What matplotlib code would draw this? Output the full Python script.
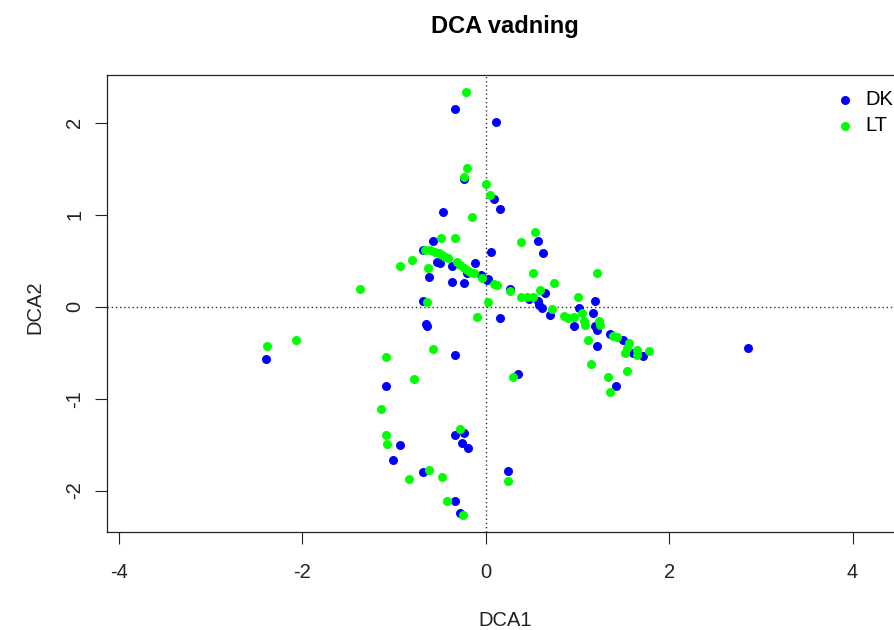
import matplotlib.pyplot as plt

# DCA site scores
dk_x = [-0.33, 0.11, -0.24, 0.085, 0.16, -0.47,
        0.565, 0.63, -0.57, 0.06, -0.68, -0.53, -0.50, -0.37, -0.115, -0.205,
        -0.62, -0.37, -0.24, -0.05, 0.01, 0.03,
        0.27, 0.47, 0.65, 0.565, 0.58, 0.61, 0.70,
        -0.68, 0.16, -0.65, -0.64,
        0.965, 1.02, 1.19, 1.165, 1.19, 1.21, 1.21,
        1.36, 1.50, 1.61, 1.72, 1.42,
        2.86, -2.40,
        -0.33, -1.09, 0.35, -0.94, -1.01, -0.33, -0.235, -0.26, -0.19,
        -0.685, 0.24, -0.335, -0.285]
dk_y = [2.15, 2.01, 1.39, 1.17, 1.06, 1.03,
        0.71, 0.58, 0.72, 0.59, 0.62, 0.49, 0.475, 0.44, 0.48, 0.37,
        0.32, 0.27, 0.26, 0.34, 0.29, 0.30,
        0.19, 0.08, 0.15, 0.06, 0.02, -0.01, -0.09,
        0.06, -0.12, -0.19, -0.21,
        -0.21, -0.01, 0.06, -0.07, -0.21, -0.25, -0.43,
        -0.30, -0.36, -0.50, -0.54, -0.86,
        -0.45, -0.57,
        -0.53, -0.86, -0.73, -1.50, -1.67, -1.40, -1.37, -1.48, -1.54,
        -1.80, -1.79, -2.11, -2.24]

lt_x = [-0.21, -0.20, -0.24, 0.0, 0.05, -0.155,
        0.54, 0.38, -0.485, -0.33, -0.80, -0.93, -0.63,
        -0.66, -0.61, -0.55, -0.51, -0.48, -0.44, -0.41,
        -0.31, -0.28, -0.24, -0.205, -0.17, -0.13,
        -0.04, 0.085, 0.12,
        0.52, 0.74, 0.27, 0.38, 0.45, 0.52, 0.59,
        0.72, -0.64, 0.03, -0.10,
        0.85, 0.90, 0.96,
        1.01, 1.21, 1.05, 1.07, 1.085, 1.23, 1.25, 1.12,
        1.39, 1.43, 1.56, 1.54, 1.52, 1.65, 1.65, 1.78,
        1.15, 1.54, 1.33, 1.35,
        -2.39, -2.07, -1.37,
        -0.58, -1.09, -0.78, 0.30, -1.14, -1.09, -1.08, -0.285,
        -0.62, -0.84, -0.48, 0.245, -0.42, -0.25]
lt_y = [2.33, 1.51, 1.41, 1.33, 1.21, 0.98,
        0.81, 0.70, 0.75, 0.75, 0.51, 0.44, 0.42,
        0.62, 0.62, 0.60, 0.58, 0.56, 0.54, 0.53,
        0.49, 0.45, 0.42, 0.40, 0.38, 0.37,
        0.31, 0.25, 0.24,
        0.37, 0.26, 0.17, 0.11, 0.105, 0.11, 0.185,
        -0.03, 0.05, 0.05, -0.11,
        -0.105, -0.12, -0.11,
        0.11, 0.37, -0.07, -0.16, -0.20, -0.16, -0.20, -0.36,
        -0.32, -0.33, -0.39, -0.45, -0.50, -0.47, -0.52, -0.48,
        -0.62, -0.70, -0.76, -0.93,
        -0.43, -0.36, 0.19,
        -0.46, -0.55, -0.79, -0.76, -1.11, -1.40, -1.49, -1.33,
        -1.78, -1.87, -1.85, -1.90, -2.11, -2.26]

x_ticks = [-4, -2, 0, 2, 4]
y_ticks = [-2, -1, 0, 1, 2]

plt.rcParams['font.family'] = ['Liberation Sans', 'DejaVu Sans']

W, H = 894, 630
fig = plt.figure(figsize=(W / 100, H / 100), dpi=100)

# plot box: left edge at 107 px, runs past the right edge of the image
xlim = (-4.13, 4.6)
ylim = (-2.45, 2.52)
px_per_unit = 91.7
left, top, bottom = 107, 75, 532
ax = fig.add_axes([left / W, (H - bottom) / H,
                   (xlim[1] - xlim[0]) * px_per_unit / W, (bottom - top) / H])

ax.scatter(dk_x, dk_y, s=42, color='#0000FF', linewidths=0, label='DK', zorder=3)
ax.scatter(lt_x, lt_y, s=42, color='#00FF00', linewidths=0, label='LT', zorder=3)

ax.axhline(0, color='#333333', linestyle=(0, (1, 2)), linewidth=1, zorder=1)
ax.axvline(0, color='#333333', linestyle=(0, (1, 2)), linewidth=1, zorder=1)

ax.set_xlim(xlim)
ax.set_ylim(ylim)
ax.set_xticks(x_ticks)
ax.set_yticks(y_ticks)
ax.set_xticklabels([str(t) for t in x_ticks])
ax.set_yticklabels([str(t) for t in y_ticks], rotation=90, va='center')
ax.tick_params(direction='out', length=8.5, width=0.8, labelsize=14.5, pad=8,
               colors='#222222')
ax.tick_params(axis='x', pad=14)
for s in ax.spines.values():
    s.set_linewidth(0.9)
    s.set_color('#222222')

fig.text(505 / W, 1 - 27 / H, 'DCA vadning', ha='center', va='center',
         fontsize=17, fontweight='bold')
fig.text(505 / W, 1 - 620 / H, 'DCA1', ha='center', va='center',
         fontsize=14.5, color='#222222')
fig.text(35 / W, 1 - 307 / H, 'DCA2', ha='center', va='center',
         fontsize=14.5, rotation=90, color='#222222')

fig.legend(loc='upper left', bbox_to_anchor=(835 / W, 1 - 90 / H),
           frameon=False, fontsize=14.5, handlelength=1.0, handletextpad=0.5,
           labelspacing=0.35, borderaxespad=0, borderpad=0)

fig.savefig('out.png', dpi=100)
